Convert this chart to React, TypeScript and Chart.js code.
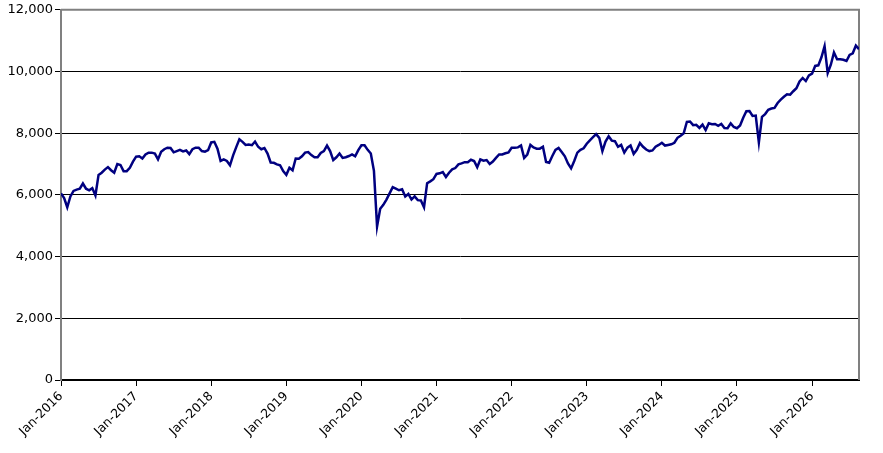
import React, { useEffect, useRef } from 'react';
import { Chart, registerables } from 'chart.js';

Chart.register(...registerables);

// half-monthly index levels, one array per calendar year
const startYear = 2016;
const pointsPerYear = 24;

const values2016 = [
  6050, 5900, 5600, 5950, 6130, 6170, 6200, 6370, 6200, 6150, 6220, 5980,
  6650, 6720, 6820, 6900, 6800, 6720, 7000, 6970, 6770, 6770, 6880, 7080,
];
const values2017 = [
  7240, 7250, 7180, 7310, 7370, 7370, 7340, 7150, 7400, 7480, 7530, 7520,
  7380, 7420, 7460, 7410, 7440, 7320, 7480, 7530, 7530, 7420, 7400, 7450,
];
const values2018 = [
  7700, 7720, 7500, 7100, 7150, 7100, 6960, 7280, 7550, 7800, 7720, 7620,
  7630, 7610, 7730, 7560, 7480, 7520, 7340, 7050, 7040, 6990, 6960, 6770,
];
const values2019 = [
  6650, 6880, 6800, 7180, 7170, 7250, 7370, 7390, 7290, 7220, 7220, 7360,
  7420, 7600, 7420, 7130, 7220, 7340, 7200, 7220, 7260, 7310, 7250, 7450,
];
const values2020 = [
  7610, 7610, 7460, 7340, 6780, 4980, 5550, 5680, 5850, 6050, 6250, 6200,
  6150, 6180, 5950, 6030, 5850, 5950, 5830, 5820, 5600, 6380, 6440, 6510,
];
const values2021 = [
  6680, 6700, 6740, 6580, 6720, 6830, 6870, 6990, 7020, 7060, 7060, 7140,
  7100, 6900, 7150, 7110, 7130, 7000, 7080, 7200, 7310, 7310, 7350, 7380,
];
const values2022 = [
  7530, 7530, 7540, 7600, 7200, 7310, 7620, 7540, 7500, 7500, 7560, 7070,
  7040, 7260, 7460, 7520, 7390, 7250, 7020, 6860, 7100, 7370, 7460, 7510,
];
const values2023 = [
  7660, 7770, 7870, 7970, 7850, 7420, 7730, 7900, 7760, 7740, 7560, 7620,
  7370, 7530, 7600, 7330, 7460, 7680, 7560, 7470, 7420, 7440, 7560, 7620,
];
const values2024 = [
  7690, 7600, 7620, 7640, 7690, 7850, 7920, 8000, 8370, 8380, 8260, 8270,
  8170, 8280, 8100, 8320, 8290, 8300, 8240, 8300, 8170, 8160, 8320, 8200,
];
const values2025 = [
  8160, 8250, 8500, 8710, 8720, 8560, 8570, 7700, 8530, 8620, 8760, 8800,
  8820, 8980, 9090, 9180, 9260, 9250, 9360, 9460, 9680, 9790, 9690, 9870,
];
const values2026 = [
  9930, 10180, 10200, 10460, 10820, 9950, 10220, 10620, 10400, 10400, 10380, 10340,
  10540, 10590, 10840, 10720,
];

const yMax = 12000;
const yStep = 2000;

const allValues = [
  ...values2016, ...values2017, ...values2018, ...values2019, ...values2020, ...values2021,
  ...values2022, ...values2023, ...values2024, ...values2025, ...values2026,
];

const points = allValues.map((v, i) => ({ x: startYear + i / pointsPerYear, y: v }));
const xMax = startYear + (allValues.length - 1) / pointsPerYear;

// gray frame on the top and right of the plot area
const frameBorder = {
  id: 'frameBorder',
  beforeDatasetsDraw(chart: Chart) {
    const { ctx, chartArea } = chart;
    ctx.save();
    ctx.strokeStyle = '#808080';
    ctx.lineWidth = 2;
    ctx.beginPath();
    ctx.moveTo(chartArea.left, chartArea.top);
    ctx.lineTo(chartArea.right, chartArea.top);
    ctx.lineTo(chartArea.right, chartArea.bottom);
    ctx.stroke();
    ctx.restore();
  },
};

const IndexChart: React.FC = () => {
  const canvasRef = useRef<HTMLCanvasElement>(null);
  const chartInstance = useRef<Chart | null>(null);

  useEffect(() => {
    if (!canvasRef.current) return;
    if (chartInstance.current) chartInstance.current.destroy();

    chartInstance.current = new Chart(canvasRef.current, {
      type: 'line',
      data: {
        datasets: [
          {
            data: points,
            borderColor: '#000080',
            borderWidth: 2.5,
            pointRadius: 0,
            tension: 0,
            fill: false,
          },
        ],
      },
      options: {
        animation: false,
        responsive: true,
        maintainAspectRatio: false,
        layout: { padding: { left: 0, top: 8, right: 24, bottom: 0 } },
        plugins: {
          legend: { display: false },
          tooltip: { enabled: false },
        },
        scales: {
          x: {
            type: 'linear',
            min: startYear,
            max: xMax,
            afterFit: (scale: any) => {
              scale.height = 73;
            },
            border: { color: '#000000', width: 2 },
            grid: {
              drawOnChartArea: false,
              drawTicks: true,
              tickLength: 6,
              tickColor: '#000000',
            },
            ticks: {
              stepSize: 1,
              includeBounds: false,
              autoSkip: false,
              maxRotation: 45,
              minRotation: 45,
              padding: 3,
              color: '#000000',
              font: { family: '"DejaVu Sans", sans-serif', size: 12.5 },
              callback: (value: any) => 'Jan-' + Math.round(Number(value)),
            },
          },
          y: {
            min: 0,
            max: yMax,
            afterFit: (scale: any) => {
              scale.width = 61;
            },
            border: { color: '#808080', width: 2 },
            grid: {
              color: (ctx: any) =>
                ctx.tick && (ctx.tick.value === yMax || ctx.tick.value === 0) ? 'rgba(0,0,0,0)' : '#000000',
              lineWidth: 1,
              tickLength: 6,
              tickColor: '#000000',
            },
            ticks: {
              stepSize: yStep,
              padding: 2,
              color: '#000000',
              font: { family: '"DejaVu Sans", sans-serif', size: 13 },
              callback: (value: any) => Number(value).toLocaleString('en-US'),
            },
          },
        },
      },
      plugins: [frameBorder],
    });

    return () => {
      if (chartInstance.current) {
        chartInstance.current.destroy();
        chartInstance.current = null;
      }
    };
  }, []);

  return (
    <div style={{ position: 'fixed', left: 0, top: 0, width: '883px', height: '453px', background: '#ffffff' }}>
      <canvas ref={canvasRef}></canvas>
    </div>
  );
};

export default function App() {
  return <IndexChart />;
}
